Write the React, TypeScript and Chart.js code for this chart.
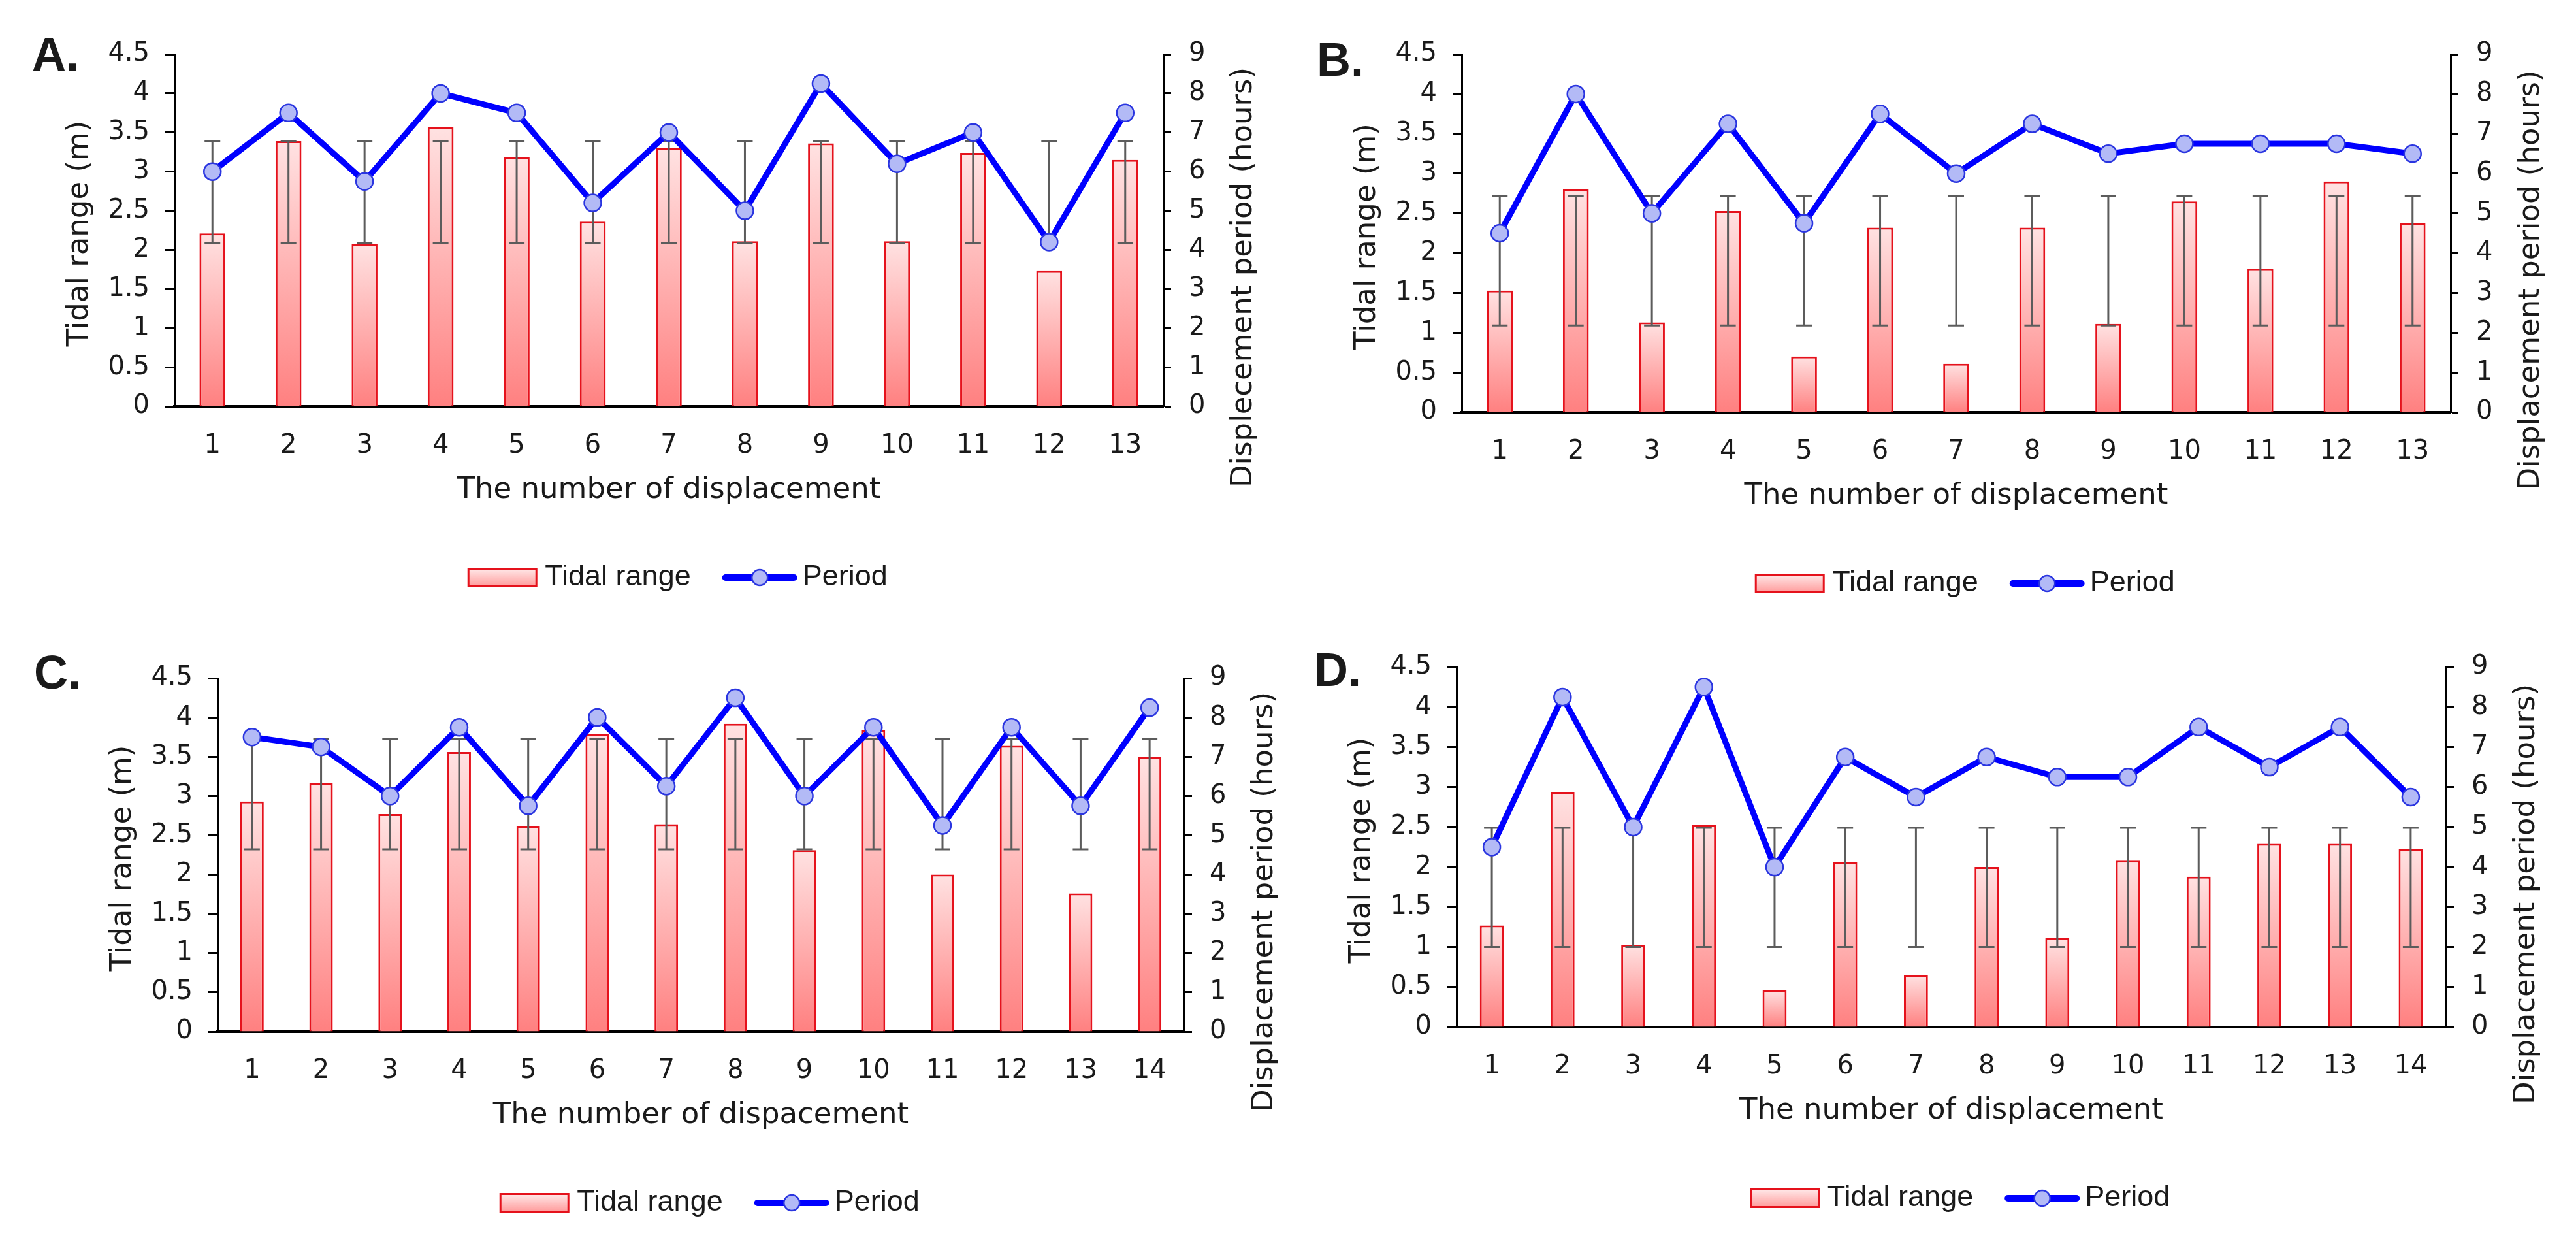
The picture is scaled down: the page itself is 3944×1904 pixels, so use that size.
import React, { useEffect, useRef } from 'react';
import { Chart, registerables } from 'chart.js';

Chart.register(...registerables);

// ---------------- DATA ----------------
const catsA = ['1', '2', '3', '4', '5', '6', '7', '8', '9', '10', '11', '12', '13'];
const tidalA = [2.21, 3.39, 2.07, 3.57, 3.19, 2.36, 3.3, 2.11, 3.36, 2.11, 3.24, 1.73, 3.15];
const periodA = [6, 7.5, 5.75, 8, 7.5, 5.2, 7, 5, 8.25, 6.2, 7, 4.2, 7.5];
const errLowA = [2.09, 2.09, 2.09, 2.09, 2.09, 2.09, 2.09, 2.09, 2.09, 2.09, 2.09, 2.09, 2.09];
const errHighA = [3.39, 3.39, 3.39, 3.39, 3.39, 3.39, 3.39, 3.39, 3.39, 3.39, 3.39, 3.39, 3.39];

const catsB = ['1', '2', '3', '4', '5', '6', '7', '8', '9', '10', '11', '12', '13'];
const tidalB = [1.53, 2.8, 1.13, 2.53, 0.7, 2.32, 0.61, 2.32, 1.11, 2.65, 1.8, 2.9, 2.38];
const periodB = [4.5, 8, 5, 7.25, 4.75, 7.5, 6, 7.25, 6.5, 6.75, 6.75, 6.75, 6.5];
const errLowB = [1.09, 1.09, 1.09, 1.09, 1.09, 1.09, 1.09, 1.09, 1.09, 1.09, 1.09, 1.09, 1.09];
const errHighB = [2.72, 2.72, 2.72, 2.72, 2.72, 2.72, 2.72, 2.72, 2.72, 2.72, 2.72, 2.72, 2.72];

const catsC = ['1', '2', '3', '4', '5', '6', '7', '8', '9', '10', '11', '12', '13', '14'];
const tidalC = [2.93, 3.16, 2.77, 3.56, 2.62, 3.79, 2.64, 3.92, 2.31, 3.84, 2.0, 3.64, 1.76, 3.5];
const periodC = [7.5, 7.25, 6, 7.75, 5.75, 8, 6.25, 8.5, 6, 7.75, 5.25, 7.75, 5.75, 8.25];
const errLowC = [2.32, 2.32, 2.32, 2.32, 2.32, 2.32, 2.32, 2.32, 2.32, 2.32, 2.32, 2.32, 2.32, 2.32];
const errHighC = [3.73, 3.73, 3.73, 3.73, 3.73, 3.73, 3.73, 3.73, 3.73, 3.73, 3.73, 3.73, 3.73, 3.73];

const catsD = ['1', '2', '3', '4', '5', '6', '7', '8', '9', '10', '11', '12', '13', '14'];
const tidalD = [1.27, 2.94, 1.03, 2.53, 0.46, 2.06, 0.65, 2.0, 1.11, 2.08, 1.88, 2.29, 2.29, 2.23];
const periodD = [4.5, 8.25, 5, 8.5, 4, 6.75, 5.75, 6.75, 6.25, 6.25, 7.5, 6.5, 7.5, 5.75];
const errLowD = [1.0, 1.0, 1.0, 1.0, 1.0, 1.0, 1.0, 1.0, 1.0, 1.0, 1.0, 1.0, 1.0, 1.0];
const errHighD = [2.49, 2.49, 2.49, 2.49, 2.49, 2.49, 2.49, 2.49, 2.49, 2.49, 2.49, 2.49, 2.49, 2.49];

const leftAxisRange = [0, 4.5, 0.5]; // min, max, step (m)
const rightAxisRange = [0, 9, 1]; // min, max, step (hours)
const leftTickLabels = ['0', '0.5', '1', '1.5', '2', '2.5', '3', '3.5', '4', '4.5'];
const rightTickLabels = ['0', '1', '2', '3', '4', '5', '6', '7', '8', '9'];

const legendBarLabel = 'Tidal range';
const legendLineLabel = 'Period';
const leftTitle = 'Tidal range (m)';

// ---------------- LAYOUT ----------------
const CW = 1972;
const CH = 952;

type PanelCfg = {
  key: string;
  letter: string;
  left: number;
  top: number;
  plot: { l: number; r: number; t: number; b: number };
  letterPos: { x: number; y: number };
  xTitle: string;
  rTitle: string;
  cats: string[];
  bars: number[];
  period: number[];
  lo: number[];
  hi: number[];
};

const panels: PanelCfg[] = [
  {
    key: 'A', letter: 'A.', left: 0, top: 0,
    plot: { l: 267, r: 1781, t: 83, b: 622 }, letterPos: { x: 49, y: 108 },
    xTitle: 'The number of displacement', rTitle: 'Displecement period (hours)',
    cats: catsA, bars: tidalA, period: periodA, lo: errLowA, hi: errHighA,
  },
  {
    key: 'B', letter: 'B.', left: CW, top: 0,
    plot: { l: 2238, r: 3752, t: 83, b: 631 }, letterPos: { x: 2016, y: 116 },
    xTitle: 'The number of displacement', rTitle: 'Displacement period (hours)',
    cats: catsB, bars: tidalB, period: periodB, lo: errLowB, hi: errHighB,
  },
  {
    key: 'C', letter: 'C.', left: 0, top: CH,
    plot: { l: 333, r: 1813, t: 1038, b: 1579 }, letterPos: { x: 52, y: 1054 },
    xTitle: 'The number of dispacement', rTitle: 'Displacement period (hours)',
    cats: catsC, bars: tidalC, period: periodC, lo: errLowC, hi: errHighC,
  },
  {
    key: 'D', letter: 'D.', left: CW, top: CH,
    plot: { l: 2230, r: 3745, t: 1021, b: 1572 }, letterPos: { x: 2012, y: 1050 },
    xTitle: 'The number of displacement', rTitle: 'Displacement period (hours)',
    cats: catsD, bars: tidalD, period: periodD, lo: errLowD, hi: errHighD,
  },
];

const TICK_FONT = { family: '"DejaVu Sans", sans-serif', size: 40 };
const TITLE_FONT = '45px "DejaVu Sans", sans-serif';
const LEGEND_FONT = '45px "Liberation Sans", Arial, sans-serif';
const LETTER_FONT = 'bold 72px "Liberation Sans Narrow", "Liberation Sans", Arial, sans-serif';
const TEXT_COLOR = '#1a1a1a';
const LINE_BLUE = '#0000ff';
const POINT_FILL = '#b3baf6';
const POINT_BORDER = '#2a35e0';
const BAR_BORDER = '#e5121c';

function makeDecor(p: PanelCfg) {
  return {
    id: 'decor' + p.key,
    afterDatasetDraw(chart: any, args: any) {
      if (args.index !== 0) return;
      const ctx = chart.ctx;
      const meta = chart.getDatasetMeta(0);
      const ys = chart.scales.y;
      ctx.save();
      ctx.strokeStyle = '#5c5c5c';
      ctx.lineWidth = 3;
      meta.data.forEach((el: any, i: number) => {
        const x = el.x;
        const y1 = ys.getPixelForValue(p.lo[i]);
        const y2 = ys.getPixelForValue(p.hi[i]);
        ctx.beginPath();
        ctx.moveTo(x, y1);
        ctx.lineTo(x, y2);
        ctx.moveTo(x - 12, y1);
        ctx.lineTo(x + 12, y1);
        ctx.moveTo(x - 12, y2);
        ctx.lineTo(x + 12, y2);
        ctx.stroke();
      });
      ctx.restore();
    },
    afterDraw(chart: any) {
      const ctx = chart.ctx;
      const ca = chart.chartArea;
      const midY = (ca.top + ca.bottom) / 2;
      const midX = (ca.left + ca.right) / 2;
      ctx.save();
      ctx.fillStyle = TEXT_COLOR;

      // panel letter
      ctx.font = LETTER_FONT;
      ctx.textAlign = 'left';
      ctx.textBaseline = 'alphabetic';
      ctx.fillText(p.letter, p.letterPos.x - p.left, p.letterPos.y - p.top);

      // axis titles
      ctx.font = TITLE_FONT;
      ctx.textAlign = 'center';
      ctx.textBaseline = 'middle';
      ctx.save();
      ctx.translate(ca.left - 145, midY + 5);
      ctx.rotate(-Math.PI / 2);
      ctx.fillText(leftTitle, 0, 0);
      ctx.restore();

      ctx.save();
      ctx.translate(ca.right + 123, midY + 72);
      ctx.rotate(-Math.PI / 2);
      ctx.fillText(p.rTitle, 0, 0);
      ctx.restore();

      ctx.fillText(p.xTitle, midX, ca.bottom + 128);

      // legend
      ctx.font = LEGEND_FONT;
      const w1 = ctx.measureText(legendBarLabel).width;
      const w2 = ctx.measureText(legendLineLabel).width;
      const boxW = 104, boxH = 27, gap1 = 13, gap2 = 48, lineW = 115, gap3 = 8;
      const total = boxW + gap1 + w1 + gap2 + lineW + gap3 + w2;
      let x = midX + 14 - total / 2;
      const cy = ca.bottom + 262;
      const g = ctx.createLinearGradient(0, cy - boxH / 2, 0, cy + boxH / 2);
      g.addColorStop(0, '#ffe8e8');
      g.addColorStop(1, '#ff9c9c');
      ctx.fillStyle = g;
      ctx.fillRect(x, cy - boxH / 2, boxW, boxH);
      ctx.strokeStyle = BAR_BORDER;
      ctx.lineWidth = 3;
      ctx.strokeRect(x, cy - boxH / 2, boxW, boxH);
      x += boxW + gap1;
      ctx.fillStyle = TEXT_COLOR;
      ctx.textAlign = 'left';
      ctx.textBaseline = 'middle';
      ctx.fillText(legendBarLabel, x, cy);
      x += w1 + gap2;
      ctx.strokeStyle = LINE_BLUE;
      ctx.lineWidth = 10;
      ctx.lineCap = 'round';
      ctx.beginPath();
      ctx.moveTo(x + 5, cy);
      ctx.lineTo(x + lineW - 5, cy);
      ctx.stroke();
      ctx.beginPath();
      ctx.arc(x + lineW / 2, cy, 12, 0, Math.PI * 2);
      ctx.fillStyle = POINT_FILL;
      ctx.fill();
      ctx.lineWidth = 2.5;
      ctx.strokeStyle = POINT_BORDER;
      ctx.stroke();
      x += lineW + gap3;
      ctx.fillStyle = TEXT_COLOR;
      ctx.fillText(legendLineLabel, x, cy);
      ctx.restore();
    },
  };
}

function Panel({ p }: { p: PanelCfg }) {
  const ref = useRef<HTMLCanvasElement | null>(null);
  useEffect(() => {
    if (!ref.current) return;
    const leftW = p.plot.l - p.left;
    const rightW = p.left + CW - p.plot.r;
    const xH = p.top + CH - p.plot.b;
    const chart = new Chart(ref.current, {
      type: 'bar',
      data: {
        labels: p.cats,
        datasets: [
          {
            type: 'bar',
            label: legendBarLabel,
            data: p.bars,
            yAxisID: 'y',
            order: 1,
            borderColor: BAR_BORDER,
            borderWidth: 3,
            barPercentage: 0.34,
            categoryPercentage: 1,
            backgroundColor: (c: any) => {
              const chart = c.chart;
              if (!chart.chartArea || c.type !== 'data') return '#ffb0b0';
              const ys = chart.scales.y;
              const top = ys.getPixelForValue(c.raw);
              const bot = ys.getPixelForValue(0);
              const g = chart.ctx.createLinearGradient(0, top, 0, bot + 0.01);
              g.addColorStop(0, '#ffe2e2');
              g.addColorStop(1, '#ff8080');
              return g;
            },
          } as any,
          {
            type: 'line',
            label: legendLineLabel,
            data: p.period,
            yAxisID: 'y1',
            order: 0,
            borderColor: LINE_BLUE,
            borderWidth: 9,
            tension: 0,
            pointRadius: 13,
            pointBackgroundColor: POINT_FILL,
            pointBorderColor: POINT_BORDER,
            pointBorderWidth: 2.5,
          } as any,
        ],
      },
      options: {
        responsive: false,
        devicePixelRatio: 1,
        animation: false,
        events: [],
        layout: { padding: { top: p.plot.t - p.top, left: 0, right: 0, bottom: 0 } },
        plugins: { legend: { display: false }, tooltip: { enabled: false } },
        scales: {
          x: {
            type: 'category',
            offset: true,
            grid: { display: false, drawTicks: false },
            border: { display: true, color: '#000', width: 4 },
            ticks: { font: TICK_FONT, color: TEXT_COLOR, padding: 37, maxRotation: 0, autoSkip: false },
            afterFit: (s: any) => { s.height = xH; },
          },
          y: {
            position: 'left',
            min: leftAxisRange[0],
            max: leftAxisRange[1],
            ticks: {
              stepSize: leftAxisRange[2], font: TICK_FONT, color: TEXT_COLOR, padding: 24,
              callback: (_v: any, i: number) => leftTickLabels[i],
            },
            grid: { display: true, drawOnChartArea: false, drawTicks: true, tickLength: 14, tickWidth: 3, tickColor: '#000', color: '#000' },
            border: { display: true, color: '#000', width: 3 },
            afterFit: (s: any) => { s.width = leftW; },
          },
          y1: {
            position: 'right',
            min: rightAxisRange[0],
            max: rightAxisRange[1],
            ticks: {
              stepSize: rightAxisRange[2], font: TICK_FONT, color: TEXT_COLOR, padding: 27,
              callback: (_v: any, i: number) => rightTickLabels[i],
            },
            grid: { display: true, drawOnChartArea: false, drawTicks: true, tickLength: 12, tickWidth: 3, tickColor: '#000', color: '#000' },
            border: { display: true, color: '#000', width: 3 },
            afterFit: (s: any) => { s.width = rightW; },
          },
        },
      } as any,
      plugins: [makeDecor(p)],
    });
    return () => chart.destroy();
  }, [p]);
  return (
    <div style={{ position: 'absolute', left: p.left, top: p.top, width: CW, height: CH }}>
      <canvas ref={ref} width={CW} height={CH} style={{ width: CW, height: CH, display: 'block' }} />
    </div>
  );
}

export default function App() {
  return (
    <div style={{ position: 'absolute', left: 0, top: 0, width: 3944, height: 1904, background: '#fff', overflow: 'hidden' }}>
      {panels.map((p) => (
        <Panel key={p.key} p={p} />
      ))}
    </div>
  );
}
